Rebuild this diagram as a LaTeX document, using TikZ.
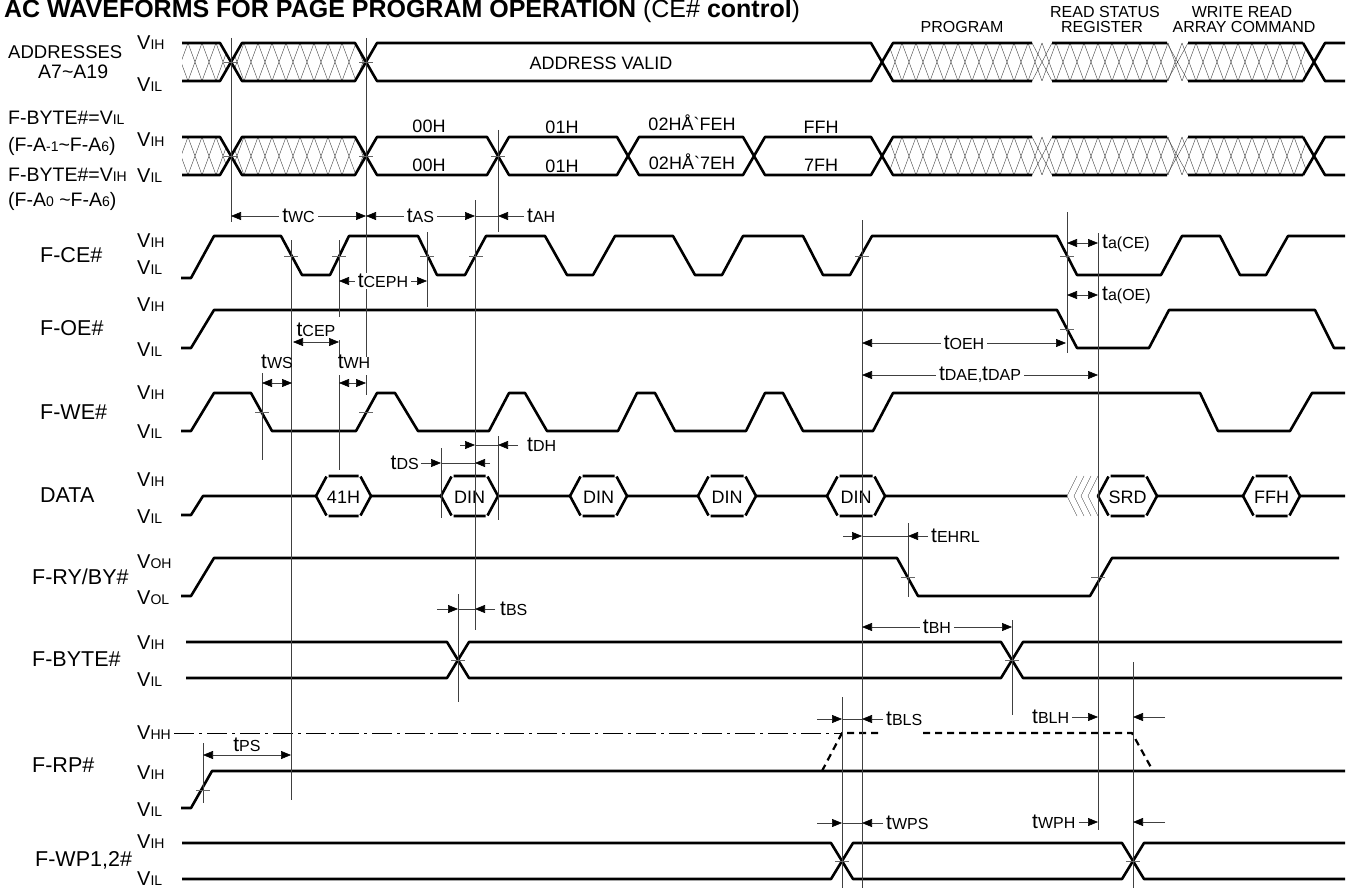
\documentclass[tikz,border=0pt]{standalone}
\usepackage{fontspec}
\setmainfont{Liberation Sans}
\usetikzlibrary{arrows.meta}
\newcommand{\sm}[1]{{\fontsize{14}{14}\selectfont #1}}
\newcommand{\tsm}[1]{{\fontsize{16}{17}\selectfont #1}}
\newcommand{\tm}[1]{{\fontsize{21}{22}\selectfont t}\tsm{#1}}
\newcommand{\crosshatch}[3]{%
  \begin{scope}
    \clip #1;
    \foreach \hx in {160,174,...,1340}
      \draw[hatchline] (\hx,#2) -- (\hx+14,#3) (\hx,#3) -- (\hx+14,#2);
  \end{scope}}
\begin{document}
\begin{tikzpicture}
[x=1pt,y=-1pt,
every node/.style={inner sep=0pt,font=\fontsize{18}{20}\selectfont},
wave/.style={line width=2.6pt,line join=round},
refline/.style={line width=0.6pt,black!75},
dimline/.style={line width=0.6pt,black!75},
both/.style={dimline,{Triangle[length=10pt,width=8pt,color=black]}-{Triangle[length=10pt,width=8pt,color=black]}},
one/.style={dimline,-{Triangle[length=10pt,width=8pt,color=black]}},
hatchline/.style={line width=0.4pt,black!75},
ticker/.style={line width=0.6pt,black!60},
rowlabel/.style={anchor=west,font=\fontsize{19.5}{20}\selectfont},
siglabel/.style={anchor=west,font=\fontsize{21.5}{22}\selectfont},
vlabel/.style={anchor=west,font=\fontsize{20}{20}\selectfont},
tlabel/.style={text=black,font=\fontsize{16}{17}\selectfont},
dimlabel/.style={tlabel,fill=white,inner xsep=3pt,inner ysep=1pt},
toplabel/.style={font=\fontsize{16}{17}\selectfont}]

\useasboundingbox (0,0) rectangle (1350,888);

\node[anchor=base west,font=\fontsize{25}{26}\selectfont\bfseries] (title) at (4,18)
  {AC WAVEFORMS FOR PAGE PROGRAM OPERATION \mdseries(CE\# \bfseries control\mdseries)};
\node[toplabel] (prog) at (962,27) {PROGRAM};
\node[toplabel] (rsr1) at (1105,12) {READ STATUS};
\node[toplabel] (rsr2) at (1102,27) {REGISTER};
\node[toplabel] (wra1) at (1242,12) {WRITE READ};
\node[toplabel] (wra2) at (1244,27) {ARRAY COMMAND};

% signal names
\node[anchor=west,font=\fontsize{18.5}{20}\selectfont] (addr) at (8,52) {ADDRESSES};
\node[rowlabel] (addrb) at (38,72) {A7\textasciitilde A19};
\node[rowlabel] (byl) at (8,118) {F-BYTE\#=V\sm{IL}};
\node[rowlabel] (byla) at (8,146) {(F-A\sm{-1}\textasciitilde F-A\sm{6})};
\node[rowlabel] (byh) at (8,175) {F-BYTE\#=V\sm{IH}};
\node[rowlabel] (byha) at (8,201) {(F-A\sm{0} \textasciitilde F-A\sm{6})};
\node[siglabel] (ce) at (40,255) {F-CE\#};
\node[siglabel] (oe) at (40,328) {F-OE\#};
\node[siglabel] (we) at (40,412) {F-WE\#};
\node[siglabel] (data) at (40,495) {DATA};
\node[siglabel] (ry) at (32,577) {F-RY/BY\#};
\node[siglabel] (byte) at (32,659) {F-BYTE\#};
\node[siglabel] (rp) at (32,765) {F-RP\#};
\node[siglabel] (wp) at (35,860) {F-WP1,2\#};

% levels
\foreach \ly/\lt [count=\li] in {43/IH,85/IL,140/IH,176/IL,241/IH,268/IL,305/IH,350/IL,393/IH,432/IL,
  480/IH,517/IL,562/OH,598/OL,643/IH,680/IL,733/HH,773/IH,810/IL,842/IH,879/IL}
  \node[vlabel] (lv\li) at (137,\ly) {V\sm{\lt}};

% addresses
\crosshatch{(182,43) -- (220,43) -- (231,62) -- (220,81) -- (182,81) -- cycle}{43}{81}
\crosshatch{(231,62) -- (242,43) -- (355,43) -- (366,62) -- (355,81) -- (242,81) -- cycle}{43}{81}
\crosshatch{(882,62) -- (893,43) -- (1304,43) -- (1315,62) -- (1304,81) -- (893,81) -- cycle}{43}{81}
\draw[wave] (182,43) -- (220,43) -- (242,81) -- (355,81) -- (377,43) -- (871,43) -- (893,81) -- (1032,81)
  (182,81) -- (220,81) -- (242,43) -- (355,43) -- (377,81) -- (871,81) -- (893,43) -- (1032,43)
  (1052,43) -- (1167,43) (1052,81) -- (1167,81) (1188,43) -- (1303,43) (1188,81) -- (1303,81)
  (1303,43) -- (1325,81) -- (1345,81) (1303,81) -- (1325,43) -- (1345,43);
\draw[hatchline] (1032,43) -- (1052,81) (1032,81) -- (1052,43) (1167,43) -- (1188,81) (1167,81) -- (1188,43);
\node (av) at (601,63) {ADDRESS VALID};

% byte addresses
\crosshatch{(182,137) -- (220,137) -- (231,156) -- (220,175) -- (182,175) -- cycle}{137}{175}
\crosshatch{(231,156) -- (242,137) -- (355,137) -- (366,156) -- (355,175) -- (242,175) -- cycle}{137}{175}
\crosshatch{(882,156) -- (893,137) -- (1304,137) -- (1315,156) -- (1304,175) -- (893,175) -- cycle}{137}{175}
\draw[wave] (182,137) -- (220,137) -- (242,175) -- (355,175) -- (377,137) -- (487,137) -- (509,175) -- (617,175)
  -- (639,137) -- (743,137) -- (765,175) -- (871,175) -- (893,137) -- (1032,137)
  (182,175) -- (220,175) -- (242,137) -- (355,137) -- (377,175) -- (487,175) -- (509,137) -- (617,137)
  -- (639,175) -- (743,175) -- (765,137) -- (871,137) -- (893,175) -- (1032,175)
  (1052,137) -- (1167,137) (1052,175) -- (1167,175) (1188,137) -- (1303,137) (1188,175) -- (1303,175)
  (1303,137) -- (1325,175) -- (1345,175) (1303,175) -- (1325,137) -- (1345,137);
\draw[hatchline] (1032,137) -- (1052,175) (1032,175) -- (1052,137) (1167,137) -- (1188,175) (1167,175) -- (1188,137);
\node (b1) at (429,126) {00H};
\node (b2) at (429,165) {00H};
\node (b3) at (562,127) {01H};
\node (b4) at (562,166) {01H};
\node (b5) at (692,123) {02H\AA\textasciigrave FEH};
\node (b6) at (692,162) {02H\AA\textasciigrave 7EH};
\node (b7) at (821,127) {FFH};
\node (b8) at (821,165) {7FH};

% control signals
\draw[wave] (181,278) -- (191,278) -- (214,236) -- (281,236) -- (302,275) -- (330,275) -- (349,236) -- (418,236)
  -- (437,275) -- (465,275) -- (486,236) -- (545,236) -- (567,275) -- (593,275) -- (615,236) -- (673,236)
  -- (695,275) -- (722,275) -- (743,236) -- (803,236) -- (823,275) -- (850,275) -- (872,236) -- (1057,236)
  -- (1077,275) -- (1161,275) -- (1182,236) -- (1220,236) -- (1240,275) -- (1266,275) -- (1288,236) -- (1345,236);
\draw[wave] (181,348) -- (191,348) -- (214,310) -- (1057,310) -- (1077,348) -- (1149,348) -- (1169,310)
  -- (1315,310) -- (1334,348) -- (1345,348);
\draw[wave] (181,431) -- (191,431) -- (214,393) -- (251,393) -- (272,431) -- (356,431) -- (377,393) -- (395,393)
  -- (418,431) -- (489,431) -- (509,393) -- (525,393) -- (547,431) -- (618,431) -- (637,393) -- (655,393)
  -- (675,431) -- (746,431) -- (765,393) -- (783,393) -- (803,431) -- (873,431) -- (893,393) -- (1200,393)
  -- (1218,431) -- (1290,431) -- (1312,393) -- (1345,393);

% data
\draw[wave] (181,515) -- (191,515) -- (203,496) -- (316,496) (371,496) -- (441,496) (498,496) -- (570,496)
  (627,496) -- (698,496) (756,496) -- (827,496) (885,496) -- (1067,496) (1157,496) -- (1243,496)
  (1300,496) -- (1345,496);
\foreach \xl/\xr/\xt [count=\xi] in {316/371/41H,441/498/DIN,570/627/DIN,698/756/DIN,827/885/DIN,1098/1157/SRD,1243/1300/FFH}
  {\draw[wave] (\xl+10.5,476.5) -- (\xl,496) -- (\xl+10.5,515.5) (\xr-10.5,476.5) -- (\xr,496) -- (\xr-10.5,515.5)
     (\xl+12.5,476) -- (\xr-12.5,476) (\xl+12.5,516) -- (\xr-12.5,516);
   \node (hx\xi) at ({(\xl+\xr)/2},497) {\xt};}
\foreach \cx in {1067,1074,1081,1088}
  \draw[hatchline] (\cx+10,476) -- (\cx,496) -- (\cx+10,516);

% status and protect
\draw[wave] (181,596) -- (191,596) -- (214,558) -- (897,558) -- (918,596) -- (1090,596) -- (1112,558) -- (1339,558);
\draw[wave] (186,642) -- (447,642) -- (469,678) -- (1001,678) -- (1023,642) -- (1342,642)
  (186,678) -- (447,678) -- (469,642) -- (1001,642) -- (1023,678) -- (1342,678);
\draw[line width=0.6pt,dash pattern=on 20pt off 5pt on 3pt off 5pt] (174,733) -- (842,733);
\draw[wave,line width=2.2pt,dash pattern=on 7pt off 5pt] (822,771) -- (842,733) -- (883,733)
  (923,733) -- (1132,733) -- (1153,771);
\draw[wave] (181,808) -- (191,808) -- (212,771) -- (1345,771);
\draw[wave] (182,843) -- (831,843) -- (853,879) -- (1122,879) -- (1144,843) -- (1345,843)
  (182,879) -- (831,879) -- (853,843) -- (1122,843) -- (1144,879) -- (1345,879);

% reference lines and ticks
\foreach \vx/\va/\vb in {231/38/222,366/38/357,366/375/395,498/130/232,498/436/520,291/240/800,339/240/317,
  339/340/357,339/375/470,262/373/460,427/232/307,475/200/630,441/448/518,458/594/702,862/220/888,908/523/597,
  1067/212/353,1098/233/830,1012/620/715,842/697/888,1133/662/888,203/743/803}
  \draw[refline] (\vx,\va) -- (\vx,\vb);
\foreach \tx/\ty in {231/62,366/62,231/156,366/156,498/156,291/256,339/256,427/256,476/256,862/256,1067/256,
  1067/329,262/412,366/412,908/577,1098/577,458/660,1012/660,203/790,842/861,1133/861}
  \draw[ticker] (\tx-7,\ty) -- (\tx+7,\ty);

% timings
\draw[both] (231,216) -- node[dimlabel] (lwc) {\tm{WC}} (366,216);
\draw[both] (366,216) -- node[dimlabel] (las) {\tm{AS}} (475,216);
\draw[dimline] (475,216) -- (498,216);
\draw[one] (524,216) -- (498,216);
\node[tlabel,anchor=west] (lah) at (527,216) {\tm{AH}};
\draw[both] (339,281) -- node[dimlabel] (lceph) {\tm{CEPH}} (427,281);
\draw[both] (293,342) -- (339,342);
\node[tlabel] (lcep) at (316,330) {\tm{CEP}};
\draw[both] (262,383) -- (292,383);
\node[tlabel] (lws) at (277,362) {\tm{WS}};
\draw[both] (339,383) -- (366,383);
\node[tlabel] (lwh) at (354,362) {\tm{WH}};
\node[tlabel,anchor=east] (lds) at (419,463) {\tm{DS}};
\draw[one] (421,463) -- (441,463);
\draw[dimline] (441,463) -- (475,463);
\draw[one] (490,463) -- (475,463);
\draw[one] (460,445) -- (475,445);
\draw[dimline] (475,445) -- (498,445);
\draw[one] (518,445) -- (498,445);
\node[tlabel,anchor=west] (ldh) at (527,445) {\tm{DH}};
\draw[both] (862,343) -- node[dimlabel] (loeh) {\tm{OEH}} (1066,343);
\draw[both] (862,375) -- node[dimlabel] (ldae) {\tm{DAE},\tm{DAP}} (1098,375);
\draw[both] (1067,243) -- (1098,243);
\node[tlabel,anchor=west] (lace) at (1102,243) {\tm{a(CE)}};
\draw[both] (1067,295) -- (1098,295);
\node[tlabel,anchor=west] (laoe) at (1102,295) {\tm{a(OE)}};
\draw[one] (843,536) -- (862,536);
\draw[dimline] (862,536) -- (908,536);
\draw[one] (928,536) -- (908,536);
\node[tlabel,anchor=west] (lehrl) at (931,536) {\tm{EHRL}};
\draw[one] (437,609) -- (458,609);
\draw[dimline] (458,609) -- (475,609);
\draw[one] (495,609) -- (475,609);
\node[tlabel,anchor=west] (lbs) at (500,609) {\tm{BS}};
\draw[both] (862,627) -- node[dimlabel] (lbh) {\tm{BH}} (1012,627);
\draw[both] (203,755) -- (291,755);
\node[tlabel] (lps) at (247,745) {\tm{PS}};
\draw[one] (817,719) -- (842,719);
\draw[dimline] (842,719) -- (862,719);
\draw[one] (883,719) -- (862,719);
\node[tlabel,anchor=west] (lbls) at (886,719) {\tm{BLS}};
\draw[one] (817,823) -- (842,823);
\draw[dimline] (842,823) -- (862,823);
\draw[one] (883,823) -- (862,823);
\node[tlabel,anchor=west] (lwps) at (886,823) {\tm{WPS}};
\node[tlabel,anchor=west] (lblh) at (1032,717) {\tm{BLH}};
\draw[one] ([xshift=3pt]lblh.east) -- (1098,717);
\draw[one] (1165,717) -- (1133,717);
\node[tlabel,anchor=west] (lwph) at (1032,822) {\tm{WPH}};
\draw[one] ([xshift=3pt]lwph.east) -- (1098,822);
\draw[one] (1165,822) -- (1133,822);
\end{tikzpicture}
\end{document}
